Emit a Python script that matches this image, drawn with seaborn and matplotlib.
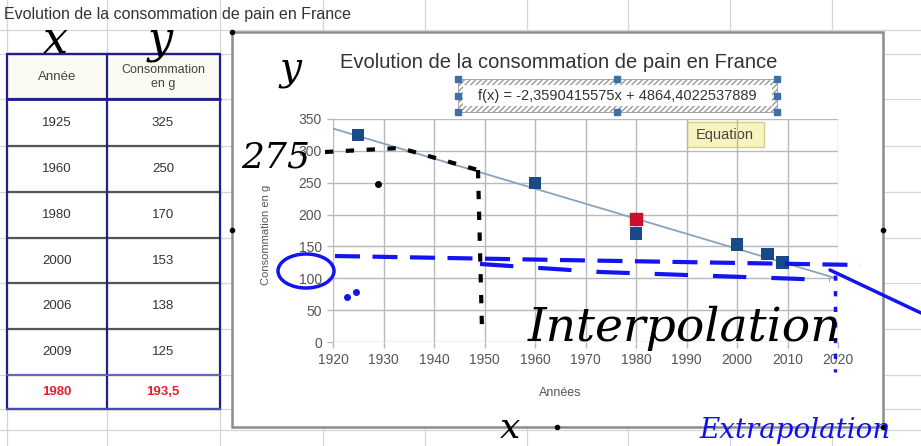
import numpy as np
import pandas as pd
import matplotlib
matplotlib.use("Agg")
import matplotlib.pyplot as plt
import seaborn as sns
from matplotlib.patches import Rectangle, Ellipse

# data read from the sheet
years = [1925, 1960, 1980, 2000, 2006, 2009]
conso = [325, 250, 170, 153, 138, 125]
mean_year = 1980
mean_conso = 193.5
mean_labels = ["1980", "193,5"]
x_ticks = list(range(1920, 2021, 10))
y_ticks = list(range(0, 351, 50))
title = "Evolution de la consommation de pain en France"
equation = "f(x) = -2,3590415575x + 4864,4022537889"

df = pd.DataFrame({"Année": years, "Consommation en g": conso})

sns.set_style("white")
plt.rcParams["font.family"] = ["Liberation Sans", "DejaVu Sans"]

fig = plt.figure(figsize=(9.21, 4.46), dpi=100)

# -----------------------------
# spreadsheet background (pixel coords)
# -----------------------------
bg = fig.add_axes([0, 0, 1, 1], zorder=0)
bg.set_xlim(0, 921)
bg.set_ylim(446, 0)
bg.axis("off")

grid_c = "#d6d6d6"
for yy in [30, 54, 99, 146, 192, 238, 283, 329, 375, 409, 430]:
    bg.plot([0, 921], [yy, yy], color=grid_c, lw=0.9)
for xx in [7, 107, 220, 323, 425, 527, 628, 730, 832]:
    bg.plot([xx, xx], [0, 446], color=grid_c, lw=0.9)

bg.text(4, 14, title, fontsize=11.5, color="#333333", va="center")

# table
row_edges = [54, 99, 146, 192, 238, 283, 329, 375, 409]
col_edges = [7, 107, 220]
bg.add_patch(Rectangle((7, 54), 213, 45, facecolor="#fcfbf3", edgecolor="none"))
for yy in row_edges:
    bg.plot([7, 220], [yy, yy], color="#555555", lw=1.6, zorder=2)
bg.plot([7, 220], [99, 99], color="#1f1f8f", lw=2, zorder=3)
for xx in col_edges:
    bg.plot([xx, xx], [54, 409], color="#1f1f8f", lw=1.6, zorder=3)
bg.plot([7, 220], [54, 54], color="#1f1f8f", lw=1.6, zorder=3)
bg.plot([7, 220], [375, 375], color="#6a6acf", lw=1.2, zorder=3)
bg.plot([7, 220], [409, 409], color="#4a4ac0", lw=1.6, zorder=3)

bg.text(57, 77, "Année", fontsize=9.5, color="#444444", ha="center", va="center")
bg.text(163, 77, "Consommation\nen g", fontsize=9, color="#444444",
        ha="center", va="center", linespacing=1.25)
for i, (yr, c) in enumerate(zip(years, conso)):
    yc = (row_edges[i + 1] + row_edges[i + 2]) / 2
    bg.text(57, yc, str(yr), fontsize=9.5, color="#333333", ha="center", va="center")
    bg.text(163, yc, str(c), fontsize=9.5, color="#333333", ha="center", va="center")
yc = (row_edges[-2] + row_edges[-1]) / 2
bg.text(57, yc, mean_labels[0], fontsize=9.5, color="#e8202a", fontweight="bold",
        ha="center", va="center")
bg.text(163, yc, mean_labels[1], fontsize=9.5, color="#e8202a", fontweight="bold",
        ha="center", va="center")

# chart frame
bg.add_patch(Rectangle((232, 32), 651, 395, facecolor="white",
                       edgecolor="#8c8c8c", lw=1.8, zorder=4))
for px, py in [(232, 32), (232, 230), (883, 230), (557, 427), (883, 427)]:
    bg.plot(px, py, "o", color="black", ms=3, zorder=5)

bg.text(559, 62, title, fontsize=14.5, color="#333333", ha="center", va="center", zorder=5)

# equation box with hatched selection border
bg.add_patch(Rectangle((458, 79), 319, 33, facecolor="white", edgecolor="#999999",
                       hatch="//////", lw=0.6, zorder=5))
bg.add_patch(Rectangle((463, 85), 309, 21, facecolor="white", edgecolor="none", zorder=6))
for px, py in [(458, 79), (617, 79), (777, 79), (458, 96), (777, 96),
               (458, 112), (617, 112), (777, 112)]:
    bg.plot(px, py, "s", color="#3f6fa8", ms=4, zorder=7)
bg.text(617, 96, equation, fontsize=10.5, color="#333333", ha="center", va="center", zorder=7)

# tooltip
bg.add_patch(Rectangle((687, 122), 77, 25, facecolor="#fbf3bd", edgecolor="#d8cc8a",
                       lw=1, zorder=5))
bg.text(725, 135, "Equation", fontsize=10.5, color="#444444", ha="center", va="center", zorder=6)

bg.text(266, 235, "Consommation en g", fontsize=8, color="#555555", rotation=90,
        ha="center", va="center", zorder=5)
bg.text(560, 393, "Années", fontsize=9, color="#555555", ha="center", va="center", zorder=5)

# -----------------------------
# the chart itself
# -----------------------------
ax = fig.add_axes([333 / 921, (446 - 342) / 446, 505 / 921, 223 / 446], zorder=2)
ax.set_facecolor("none")
ax.set_xlim(1920, 2020)
ax.set_ylim(0, 350)
ax.set_xticks(x_ticks)
ax.set_yticks(y_ticks)
ax.grid(True, color="#b9b9b9", lw=1)
for s in ax.spines.values():
    s.set_visible(False)
ax.tick_params(axis="both", labelsize=10, labelcolor="#555555", length=4, width=1,
               left=True, bottom=True, pad=4, color="#b9b9b9")

sns.regplot(data=df, x="Année", y="Consommation en g", ax=ax, scatter=False,
            ci=None, truncate=False, line_kws={"color": "#8aa2bd", "lw": 1.3, "zorder": 3})
sns.scatterplot(data=df, x="Année", y="Consommation en g", ax=ax, marker="s",
                s=80, color="#174a86", edgecolor="none", zorder=4)
ax.scatter([mean_year], [mean_conso], marker="s", s=80, color="#c8102e", zorder=5)
ax.set_xlabel("")
ax.set_ylabel("")

# -----------------------------
# hand-drawn notes on top
# -----------------------------
ov = fig.add_axes([0, 0, 1, 1], zorder=3)
ov.set_xlim(0, 921)
ov.set_ylim(446, 0)
ov.axis("off")
ov.patch.set_alpha(0)

hand = dict(family="DejaVu Serif", style="italic", color="black")
ov.text(55, 40, "x", fontsize=32, ha="center", va="center", **hand)
ov.text(160, 40, "y", fontsize=32, ha="center", va="center", **hand)
ov.text(290, 70, "y", fontsize=28, ha="center", va="center", **hand)
ov.text(276, 158, "275", fontsize=26, ha="center", va="center", **hand)
ov.text(685, 328, "Interpolation", fontsize=34, ha="center", va="center", **hand)
ov.text(510, 428, "x", fontsize=26, ha="center", va="center", **hand)
ov.text(795, 430, "Extrapolation", fontsize=20, ha="center", va="center",
        family="DejaVu Serif", style="italic", color="#1010ee")

ov.plot([325, 400, 478], [152, 148, 170], color="black", lw=3, ls=(0, (2, 3)))
ov.plot([478, 482], [170, 330], color="black", lw=3, ls=(0, (2, 3)))
ov.plot(378, 184, "o", color="black", ms=4)

blue = "#1414f0"
ov.add_patch(Ellipse((306, 271), 56, 34, fill=False, edgecolor=blue, lw=2.5))
ov.plot([335, 560, 860], [256, 260, 265], color=blue, lw=3, ls=(0, (6, 3)))
ov.plot([480, 600, 830], [264, 272, 280], color=blue, lw=3, ls=(0, (8, 6)))
ov.plot([830, 921], [270, 313], color=blue, lw=2.5)
ov.plot([835, 835], [275, 372], color=blue, lw=2.5, ls=(0, (1.5, 3)))
ov.plot([347, 356], [297, 292], "o", color=blue, ms=4)

fig.savefig("out.png", dpi=100)
